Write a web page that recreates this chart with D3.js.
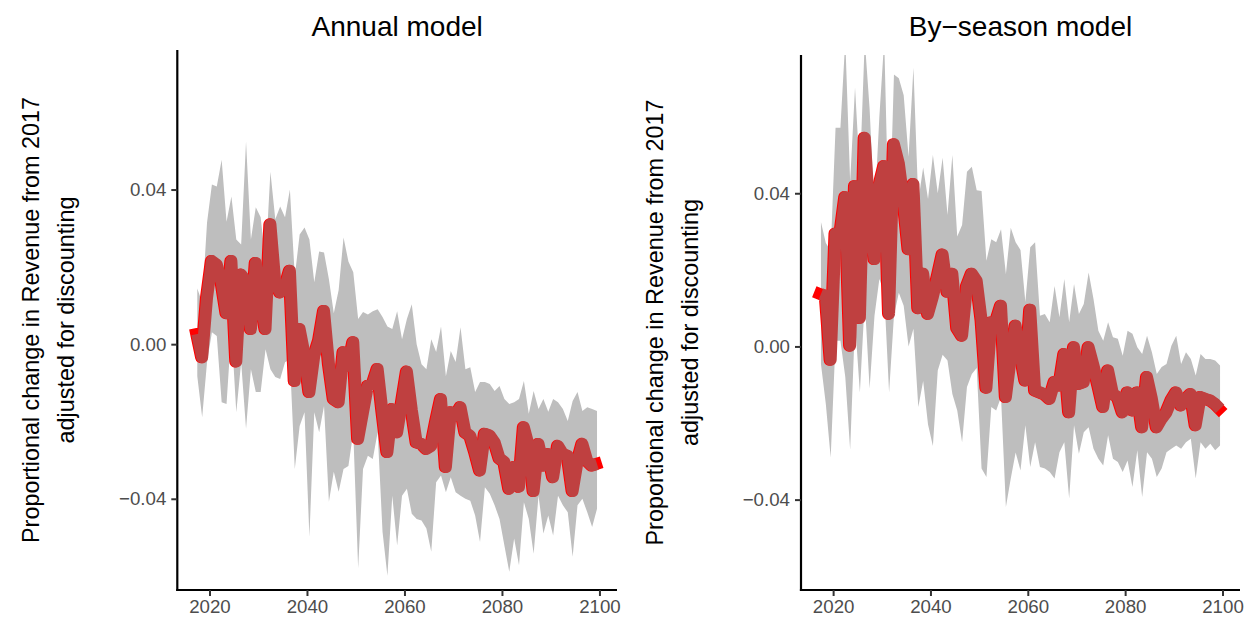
<!DOCTYPE html>
<html>
<head>
<meta charset="utf-8">
<script src="https://cdn.jsdelivr.net/npm/d3@7"></script>
<style>
  body { margin: 0; background: #fff; }
  svg { display: block; }
  text { font-family: "Liberation Sans", Arial, Helvetica, sans-serif; }
</style>
</head>
<body>
<svg id="chart" width="1245" height="617"></svg>
<script>
// Years of the projection (one value per year)
const years = d3.range(2017, 2100);

// Annual model: mean change and uncertainty band
const annualMean = [
  0.0026, -0.0034, 0.012, 0.0215, 0.0206, 0.016, 0.008, 0.0215, -0.0045, 0.018,
  0.0163, 0.0039, 0.021, 0.011, 0.0039, 0.031, 0.016, 0.0134, 0.0147, 0.019,
  -0.0095, 0.0039, -0.0026, -0.0124, -0.003, 0.001, 0.0086, -0.005, -0.0142, -0.015,
  -0.0021, -0.0056, 0.0005, -0.0245, -0.0176, -0.0108, -0.0103, -0.0064, -0.0176, -0.0279,
  -0.0168, -0.0228, -0.015, -0.0071, -0.017, -0.0254, -0.0258, -0.0271, -0.0263, -0.02,
  -0.0142, -0.0318, -0.0176, -0.0185, -0.0163, -0.0228, -0.0237, -0.0279, -0.0327, -0.0232,
  -0.0236, -0.0254, -0.0295, -0.0305, -0.0374, -0.0318, -0.0369, -0.0215, -0.0263, -0.038,
  -0.0258, -0.0314, -0.0284, -0.0344, -0.0263, -0.0284, -0.0289, -0.038, -0.0305, -0.0258,
  -0.0302, -0.0314, -0.031
];
const annualUpper = [
  0.0144, 0.0108, 0.0315, 0.0413, 0.0408, 0.0477, 0.0317, 0.0382, 0.0271, 0.0258,
  0.0524, 0.0271, 0.0354, 0.0328, 0.0212, 0.0446, 0.0323, 0.0356, 0.0328, 0.04,
  0.0175, 0.0284, 0.0302, 0.0271, 0.016, 0.024, 0.0237, 0.0168, 0.008, 0.014,
  0.0276, 0.0214, 0.0186, 0.0065, 0.0083, 0.0077, 0.0085, 0.009, 0.007, 0.0046,
  0.0039, 0.0085, 0.0013, 0.0065, 0.0103, 0.0, -0.0052, -0.0065, 0.0013, -0.002,
  0.0046, -0.0083, -0.0018, -0.0046, 0.0044, -0.0065, -0.006, -0.0124, -0.0098, -0.0098,
  -0.0103, -0.0121, -0.0108, -0.0142, -0.0155, -0.015, -0.0142, -0.0095, -0.018, -0.0121,
  -0.0168, -0.0142, -0.0175, -0.0142, -0.015, -0.0168, -0.0199, -0.0147, -0.0124, -0.0173,
  -0.0163, -0.0168, -0.0173
];
const annualLower = [
  -0.0083, -0.0189, -0.0047, 0.0031, 0.0021, -0.015, -0.0155, 0.0039, -0.0176, -0.0047,
  -0.0219, -0.0065, -0.0124, -0.0124, -0.0013, -0.0065, -0.0085, -0.009, -0.0047, -0.0039,
  -0.0323, -0.0212, -0.0176, -0.0498, -0.0176, -0.0228, -0.016, -0.0408, -0.033, -0.0382,
  -0.0323, -0.0315, -0.0228, -0.058, -0.0323, -0.0289, -0.0297, -0.0228, -0.0485, -0.0599,
  -0.0392, -0.0521, -0.0392, -0.0374, -0.0439, -0.0452, -0.0456, -0.0477, -0.0537, -0.0357,
  -0.034, -0.0383, -0.0344, -0.0383, -0.0392, -0.04, -0.0405, -0.0443, -0.0512, -0.037,
  -0.0387, -0.0417, -0.0452, -0.0521, -0.0589, -0.0503, -0.0572, -0.0409, -0.0452, -0.0542,
  -0.0392, -0.049, -0.0443, -0.0495, -0.0392, -0.0417, -0.0435, -0.055, -0.0417, -0.04,
  -0.0435, -0.0473, -0.0426
];

// By-season model: mean change and uncertainty band
const seasonMean = [
  0.0137, 0.0132, -0.0035, 0.0295, 0.0295, 0.039, 0.0002, 0.0419, 0.0074, 0.0545,
  0.034, 0.0228, 0.0419, 0.0471, 0.0085, 0.0528, 0.0478, 0.038, 0.0254, 0.0424,
  0.01, 0.019, 0.0085, 0.013, 0.0183, 0.024, 0.0143, 0.019, 0.0048, 0.0028,
  0.0157, 0.019, 0.0171, 0.007, -0.0108, 0.0063, 0.0065, 0.0106, -0.0132, -0.003,
  0.0054, -0.002, -0.0089, 0.0096, -0.0115, -0.012, -0.0125, -0.0137, -0.0093, -0.0102,
  -0.002, -0.0172, -0.0002, -0.0098, -0.0093, -0.0002, -0.005, -0.0102, -0.0158, -0.0063,
  -0.0124, -0.0132, -0.0172, -0.012, -0.0167, -0.012, -0.0211, -0.008, -0.0137, -0.0211,
  -0.0189, -0.0172, -0.0141, -0.012, -0.0154, -0.0137, -0.0124, -0.0206, -0.0132, -0.0137,
  -0.0141, -0.015, -0.0163
];
const seasonUpper = [
  0.0325, 0.027, 0.025, 0.0571, 0.0571, 0.08, 0.043, 0.0676, 0.045, 0.08,
  0.062, 0.035, 0.06, 0.08, 0.028, 0.071, 0.07, 0.0656, 0.0495, 0.0728,
  0.038, 0.0467, 0.0385, 0.05, 0.04, 0.0493, 0.0343, 0.05, 0.0287, 0.0317,
  0.0456, 0.0469, 0.0408, 0.0406, 0.0224, 0.028, 0.0272, 0.0306, 0.0189, 0.031,
  0.0272, 0.0252, 0.0116, 0.0259, 0.0272, 0.008, 0.0085, 0.0063, 0.0158, 0.0076,
  0.0176, 0.0063, 0.0163, 0.0085, 0.0111, 0.0193, 0.0124, 0.0041, 0.0015, 0.0063,
  0.0024, 0.002, -0.0024, 0.0041, 0.0033, -0.0002, -0.002, 0.0028, -0.0015, -0.0072,
  -0.0054, -0.0046, 0.0002, 0.0028, -0.0046, -0.0015, -0.0033, -0.0076, -0.002, -0.0033,
  -0.0033, -0.0037, -0.005
];
const seasonLower = [
  -0.0046, -0.015, -0.029, 0.0015, 0.0015, -0.008, -0.027, 0.0063, -0.012, 0.012,
  -0.011, 0.008, 0.0176, 0.014, -0.012, 0.008, 0.014, 0.0106, 0.0, 0.0046,
  -0.0158, -0.009, -0.0204, -0.026, -0.0063, -0.0022, -0.0037, -0.0124, -0.0167, -0.025,
  -0.0106, -0.0072, -0.0056, -0.0319, -0.0341, -0.0158, -0.0167, -0.0132, -0.0419, -0.0345,
  -0.0277, -0.0324, -0.0206, -0.0315, -0.025, -0.0315, -0.0319, -0.0328, -0.0345, -0.0276,
  -0.025, -0.0397, -0.0206, -0.028, -0.0224, -0.0211, -0.0267, -0.0293, -0.0311, -0.0232,
  -0.0293, -0.0302, -0.0328, -0.0298, -0.0367, -0.0271, -0.0393, -0.0276, -0.0293, -0.0341,
  -0.0319, -0.0276, -0.0267, -0.0259, -0.0267, -0.025, -0.0241, -0.0345, -0.025, -0.0267,
  -0.0254, -0.0271, -0.0259
];

// Axis ticks and labels
const xTicks = [2020, 2040, 2060, 2080, 2100];
const yTicks = [-0.04, 0, 0.04];
const panelTitles = ["Annual model", "By\u2212season model"];
const yTitleLines = ["Proportional change in Revenue from 2017", "adjusted for discounting"];

// Shared vertical range of both panels
const yDomain = [-0.0636, 0.0761];

const svg = d3.select("#chart");

const panels = [
  { title: panelTitles[0], mean: annualMean, lower: annualLower, upper: annualUpper,
    box: { left: 177.3, right: 617, top: 50, bottom: 590 } },
  { title: panelTitles[1], mean: seasonMean, lower: seasonLower, upper: seasonUpper,
    box: { left: 801, right: 1240, top: 55, bottom: 590 } }
];

// Values are plotted at mid-year; the x range is padded by 5% on each side
const xMin = d3.min(years) + 0.5, xMax = d3.max(years) + 0.5;
const pad = (xMax - xMin) * 0.05;
// the bright trace sits slightly ahead of the mean line
const traceLead = 0.22;

panels.forEach((p, i) => {
  const b = p.box;
  const x = d3.scaleLinear().domain([xMin - pad, xMax + pad]).range([b.left, b.right]);
  const y = d3.scaleLinear().domain(yDomain).range([b.bottom, b.top]);

  const rows = years.map((yr, k) => ({ yr, mean: p.mean[k], lo: p.lower[k], hi: p.upper[k] }));

  const g = svg.append("g");
  const clipId = "clip" + i;
  g.append("clipPath").attr("id", clipId)
    .append("rect")
    .attr("x", b.left).attr("y", b.top)
    .attr("width", b.right - b.left).attr("height", b.bottom - b.top);

  const plot = g.append("g").attr("clip-path", `url(#${clipId})`);

  // Uncertainty band
  plot.append("path")
    .datum(rows)
    .attr("fill", "#bebebe")
    .attr("d", d3.area()
      .x(d => x(d.yr + 0.5))
      .y0(d => y(d.lo))
      .y1(d => y(d.hi)));

  // Bright red trace
  plot.append("path")
    .datum(rows)
    .attr("fill", "none")
    .attr("stroke", "#ff0000")
    .attr("stroke-width", 12)
    .attr("stroke-linejoin", "round")
    .attr("stroke-linecap", "square")
    .attr("d", d3.line().x(d => x(d.yr + 0.5 - traceLead)).y(d => y(d.mean)));

  // Mean line
  plot.append("path")
    .datum(rows)
    .attr("fill", "none")
    .attr("stroke", "#bf4040")
    .attr("stroke-width", 12)
    .attr("stroke-linejoin", "round")
    .attr("stroke-linecap", "butt")
    .attr("d", d3.line().x(d => x(d.yr + 0.5)).y(d => y(d.mean)));

  // Axes
  const xAxis = d3.axisBottom(x).tickValues(xTicks).tickFormat(d3.format("d"))
    .tickSizeInner(6).tickSizeOuter(0).tickPadding(4);
  const yAxis = d3.axisLeft(y).tickValues(yTicks).tickFormat(d3.format(".2f"))
    .tickSizeInner(6).tickSizeOuter(0).tickPadding(5);

  const gx = g.append("g").attr("transform", `translate(0,${b.bottom})`).call(xAxis);
  const gy = g.append("g").attr("transform", `translate(${b.left},0)`).call(yAxis);

  [gx, gy].forEach(ax => {
    ax.select(".domain").attr("stroke", "#000").attr("stroke-width", 2.2);
    ax.selectAll(".tick line").attr("stroke", "#333").attr("stroke-width", 2);
    ax.selectAll(".tick text")
      .attr("fill", "#4d4d4d")
      .style("font-size", "18.7px")
      .style("font-family", '"Liberation Sans", Arial, sans-serif');
  });
  gx.selectAll(".tick text").attr("dy", "0.7em");
  // extend the axis lines so they meet at the corner
  gx.select(".domain").attr("d", `M${b.left - 1.1},0H${b.right}`);
  gy.select(".domain").attr("d", `M0,${b.top}V${b.bottom + 1.1}`);

  // Panel title
  g.append("text")
    .attr("x", (b.left + b.right) / 2)
    .attr("y", 36)
    .attr("text-anchor", "middle")
    .attr("fill", "#000")
    .style("font-size", "28px")
    .text(p.title);

  // Y-axis title (two lines)
  const yc = (b.top + b.bottom) / 2;
  const t = g.append("text")
    .attr("transform", `translate(${b.left - 138},${yc}) rotate(-90)`)
    .attr("text-anchor", "middle")
    .attr("fill", "#000")
    .style("font-size", "23.4px");
  t.append("tspan").attr("x", 0).attr("dy", 0).text(yTitleLines[0]);
  t.append("tspan").attr("x", 0).attr("dy", 35).text(yTitleLines[1]);
});
</script>
</body>
</html>
